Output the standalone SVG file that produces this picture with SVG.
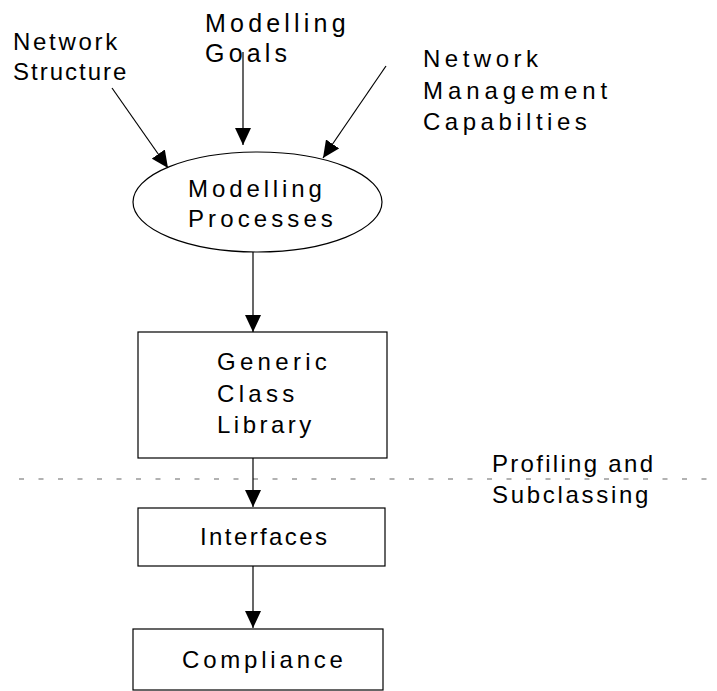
<svg xmlns="http://www.w3.org/2000/svg" width="717" height="691" viewBox="0 0 717 691">
<style>
text{font-family:"Liberation Sans",Arial,sans-serif;font-size:24px;fill:#000}
.shape{fill:#fff;stroke:#000;stroke-width:1.2}
.conn line{stroke:#000;stroke-width:1.2}
.dash{stroke:#666;stroke-width:1.2;stroke-dasharray:5 14.5}
</style>
<defs>
<marker id="ah" markerWidth="17" markerHeight="16" refX="17" refY="8" orient="auto" markerUnits="userSpaceOnUse">
<path d="M0,0 L17,8 L0,16 Z" fill="#000"/>
</marker>
</defs>
<g id="network-structure">
<text x="13" y="50" style="letter-spacing:2.7px">Network</text>
<text x="13" y="80" style="letter-spacing:2px">Structure</text>
</g>
<g id="modelling-goals">
<text x="205" y="32" style="font-size:25px;letter-spacing:4.2px">Modelling</text>
<text x="205" y="62" style="font-size:25px;letter-spacing:4.2px">Goals</text>
</g>
<g id="network-management">
<text x="423" y="67" style="letter-spacing:4.5px">Network</text>
<text x="423" y="99" style="letter-spacing:4.9px">Management</text>
<text x="423" y="130" style="letter-spacing:4.5px">Capabilties</text>
</g>
<g id="modelling-processes">
<ellipse class="shape" cx="257.5" cy="202" rx="124.5" ry="50"/>
<text x="188" y="197" style="letter-spacing:3.9px">Modelling</text>
<text x="188" y="227" style="letter-spacing:4.1px">Processes</text>
</g>
<g id="generic-class-library">
<rect class="shape" x="138" y="332" width="249" height="126"/>
<text x="217" y="370" style="letter-spacing:4.3px">Generic</text>
<text x="217" y="402" style="letter-spacing:4.3px">Class</text>
<text x="217" y="433" style="letter-spacing:3.5px">Library</text>
</g>
<g id="profiling">
<line class="dash" x1="19" y1="479" x2="717" y2="479"/>
<text x="492" y="472" style="letter-spacing:2.3px">Profiling and</text>
<text x="492" y="503" style="letter-spacing:2.7px">Subclassing</text>
</g>
<g id="interfaces">
<rect class="shape" x="138" y="508" width="247" height="58"/>
<text x="200" y="545" style="letter-spacing:2.4px">Interfaces</text>
</g>
<g id="compliance">
<rect class="shape" x="133" y="629" width="250" height="61"/>
<text x="182" y="668" style="letter-spacing:3.8px">Compliance</text>
</g>
<g id="connectors" class="conn">
<line x1="112" y1="88" x2="168" y2="168" marker-end="url(#ah)"/>
<line x1="243" y1="52" x2="243" y2="145" marker-end="url(#ah)"/>
<line x1="386" y1="66" x2="323" y2="158" marker-end="url(#ah)"/>
<line x1="253" y1="252" x2="253" y2="332" marker-end="url(#ah)"/>
<line x1="253" y1="458" x2="253" y2="507" marker-end="url(#ah)"/>
<line x1="253" y1="566" x2="253" y2="628" marker-end="url(#ah)"/>
</g>
</svg>
